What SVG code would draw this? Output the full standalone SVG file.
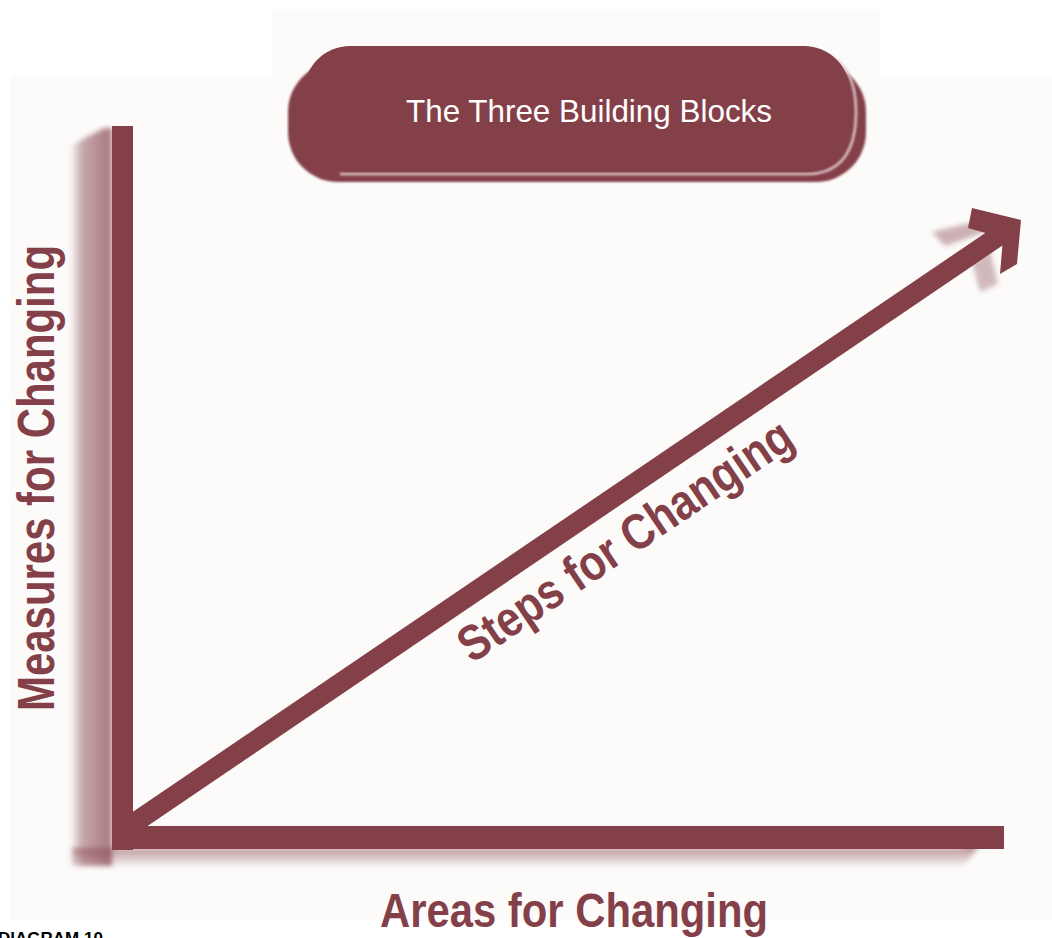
<svg xmlns="http://www.w3.org/2000/svg" width="1052" height="938" viewBox="0 0 1052 938">
<style>
.m{fill:#844049}
.lbl{font-family:"Liberation Sans",Arial,sans-serif;font-weight:bold;fill:#844049}
</style>
<defs>
<linearGradient id="vs" x1="0" y1="0" x2="1" y2="0">
<stop offset="0" stop-color="#844049" stop-opacity="0"/>
<stop offset="0.3" stop-color="#844049" stop-opacity="0.45"/>
<stop offset="1" stop-color="#844049" stop-opacity="0.7"/>
</linearGradient>
<linearGradient id="hs" x1="0" y1="0" x2="0" y2="1">
<stop offset="0" stop-color="#844049" stop-opacity="0.75"/>
<stop offset="1" stop-color="#844049" stop-opacity="0"/>
</linearGradient>
<filter id="bl" x="-20%" y="-20%" width="140%" height="140%"><feGaussianBlur stdDeviation="2.5"/></filter>
<filter id="bl1" x="-20%" y="-20%" width="140%" height="140%"><feGaussianBlur stdDeviation="1"/></filter>
</defs>
<rect width="1052" height="938" fill="#ffffff"/>
<path d="M10,75 H272 V10 H880 V75 H1052 V921 H10 Z" fill="#fcfbfa"/>

<g id="title">
<rect x="288" y="62" width="578" height="120" rx="50" class="m" filter="url(#bl1)"/>
<path d="M812,52 Q856,56 856,112 Q856,170 812,174 H340" fill="none" stroke="#dcc4c7" stroke-width="2.5" filter="url(#bl1)"/>
<rect x="304" y="46" width="546" height="126" rx="46" class="m"/>
<text x="589" y="122" text-anchor="middle" font-family="'Liberation Sans',Arial,sans-serif" font-size="32" fill="#ffffff" textLength="366" lengthAdjust="spacingAndGlyphs">The Three Building Blocks</text>
</g>

<g id="connectors">
<g id="shadows" filter="url(#bl)">
<path d="M70,146 L104,128 H112 V866 H70 Z" fill="url(#vs)"/>
<path d="M72,848 H960 L976,840 L978,848 L962,868 H72 Z" fill="url(#hs)"/>
<path d="M932,232 L975,222 L985,232 L945,246 Z" fill="#844049" opacity="0.4"/>
<path d="M972,262 L990,250 L998,284 L980,292 Z" fill="#844049" opacity="0.35"/>
</g>
<rect id="y-axis" x="112" y="126" width="21" height="724" class="m"/>
<rect id="x-axis" x="112" y="826" width="892" height="23" class="m"/>
<line id="diag" x1="118" y1="834" x2="1006" y2="231" stroke="#844049" stroke-width="20"/>
<polygon id="head" points="972,208 1021,220 1017,264 1000,274 1003,238 968,228" class="m"/>
</g>

<g id="y-label">
<text class="lbl" font-size="52" transform="translate(54,711) rotate(-90)" textLength="466" lengthAdjust="spacingAndGlyphs">Measures for Changing</text>
</g>
<g id="x-label">
<text class="lbl" x="380" y="927" font-size="48" textLength="388" lengthAdjust="spacingAndGlyphs">Areas for Changing</text>
</g>
<g id="diag-label">
<text class="lbl" font-size="50" transform="translate(472,664) rotate(-34)" textLength="392" lengthAdjust="spacingAndGlyphs">Steps for Changing</text>
</g>
<text x="-2" y="944" font-family="'Liberation Sans',Arial,sans-serif" font-weight="bold" font-size="17" fill="#000000">DIAGRAM 10</text>
</svg>
